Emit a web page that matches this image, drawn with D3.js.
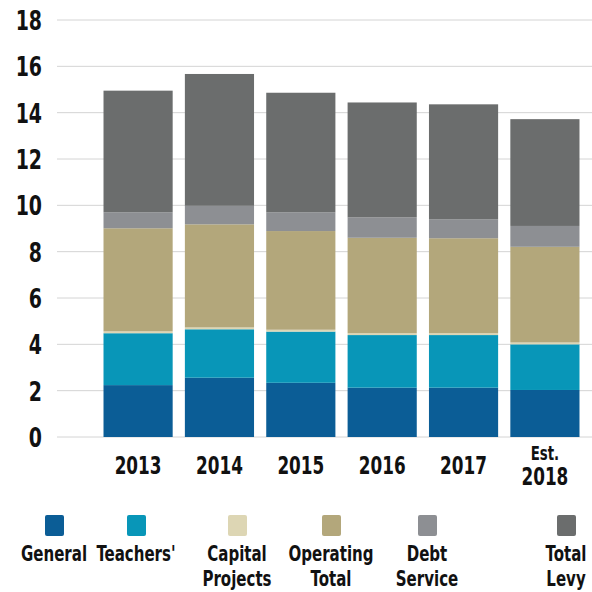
<!DOCTYPE html>
<html>
<head>
<meta charset="utf-8">
<script src="https://cdn.jsdelivr.net/npm/d3@7"></script>
<style>
  body { margin: 0; background: #fff; }
  text { font-family: "DejaVu Sans Condensed", "DejaVu Sans", sans-serif; font-weight: bold; fill: #111; }
</style>
</head>
<body>
<svg id="chart" width="592" height="592"></svg>
<script>
var years = ['2013', '2014', '2015', '2016', '2017', 'Est.|2018'];
var general   = [2.24, 2.56, 2.34, 2.13, 2.13, 2.03];
var teachers  = [2.24, 2.09, 2.21, 2.27, 2.27, 1.97];
var capital   = [0.08, 0.08, 0.08, 0.08, 0.08, 0.08];
var operating = [4.45, 4.45, 4.26, 4.12, 4.10, 4.13];
var debt      = [0.69, 0.80, 0.81, 0.88, 0.82, 0.90];
var levy      = [5.25, 5.69, 5.16, 4.96, 4.96, 4.61];
var yTicks = [0, 2, 4, 6, 8, 10, 12, 14, 16, 18];
var seriesNames = ['General', "Teachers'", 'Capital|Projects', 'Operating|Total', 'Debt|Service', 'Total|Levy'];
var colors = ['#0b5d96', '#0896b8', '#ddd6b4', '#b3a77b', '#8d8f93', '#6b6d6d'];

var svg = d3.select('#chart');

var rows = years.map(function(y, i) {
  return {year: y, s0: general[i], s1: teachers[i], s2: capital[i], s3: operating[i], s4: debt[i], s5: levy[i]};
});
var keys = ['s0', 's1', 's2', 's3', 's4', 's5'];
var stacked = d3.stack().keys(keys)(rows);

var y = d3.scaleLinear().domain([0, 18]).range([437, 20]);
var x = d3.scaleBand().domain(years).range([97, 586]).paddingInner(0.15).paddingOuter(0.08);

// gridlines
svg.append('g').selectAll('line').data(yTicks)
  .enter().append('line')
  .attr('x1', 57).attr('x2', 592)
  .attr('y1', function(d) { return y(d); })
  .attr('y2', function(d) { return y(d); })
  .style('stroke', '#d4d4d4').style('stroke-width', '1px');

// y labels (squeezed horizontally, the original face is condensed)
svg.append('g').selectAll('text').data(yTicks)
  .enter().append('text')
  .attr('text-anchor', 'end')
  .attr('transform', function(d) { return 'translate(42,' + (y(d) + 10) + ') scale(0.78,1)'; })
  .style('font-size', '27px')
  .text(function(d) { return d; });

// bars
svg.append('g').selectAll('g').data(stacked)
  .enter().append('g')
  .style('fill', function(d, i) { return colors[i]; })
  .selectAll('rect').data(function(d) { return d; })
  .enter().append('rect')
  .attr('x', function(d) { return x(d.data.year); })
  .attr('width', x.bandwidth())
  .attr('y', function(d) { return y(d[1]); })
  .attr('height', function(d) { return y(d[0]) - y(d[1]); });

// x labels
var xl = svg.append('g').selectAll('text').data(years)
  .enter().append('text')
  .attr('text-anchor', 'middle')
  .attr('transform', function(d) {
    return 'translate(' + (x(d) + x.bandwidth() / 2) + ',' + (d.indexOf('|') >= 0 ? 460 : 474) + ') scale(0.78,1)';
  })
  .style('font-size', '24px');
xl.selectAll('tspan').data(function(d) { return d.split('|'); })
  .enter().append('tspan')
  .attr('x', 0)
  .attr('dy', function(d, i) { return i ? 25 : 0; })
  .style('font-size', function(d, i, n) { return n.length > 1 && i === 0 ? '19px' : '24px'; })
  .text(function(d) { return d; });

// legend
var legendX = [54, 136, 237, 331, 427, 566];
var lg = svg.append('g').selectAll('g').data(seriesNames)
  .enter().append('g')
  .attr('transform', function(d, i) { return 'translate(' + legendX[i] + ',0)'; });
lg.append('rect')
  .attr('x', -9).attr('y', 515).attr('width', 19).attr('height', 21).attr('rx', 2)
  .style('fill', function(d, i) { return colors[i]; });
var lt = lg.append('text')
  .attr('text-anchor', 'middle')
  .attr('transform', 'translate(0,561) scale(0.76,1)')
  .style('font-size', '22px');
lt.selectAll('tspan').data(function(d) { return d.split('|'); })
  .enter().append('tspan')
  .attr('x', 0)
  .attr('dy', function(d, i) { return i ? 25 : 0; })
  .text(function(d) { return d; });
</script>
</body>
</html>
